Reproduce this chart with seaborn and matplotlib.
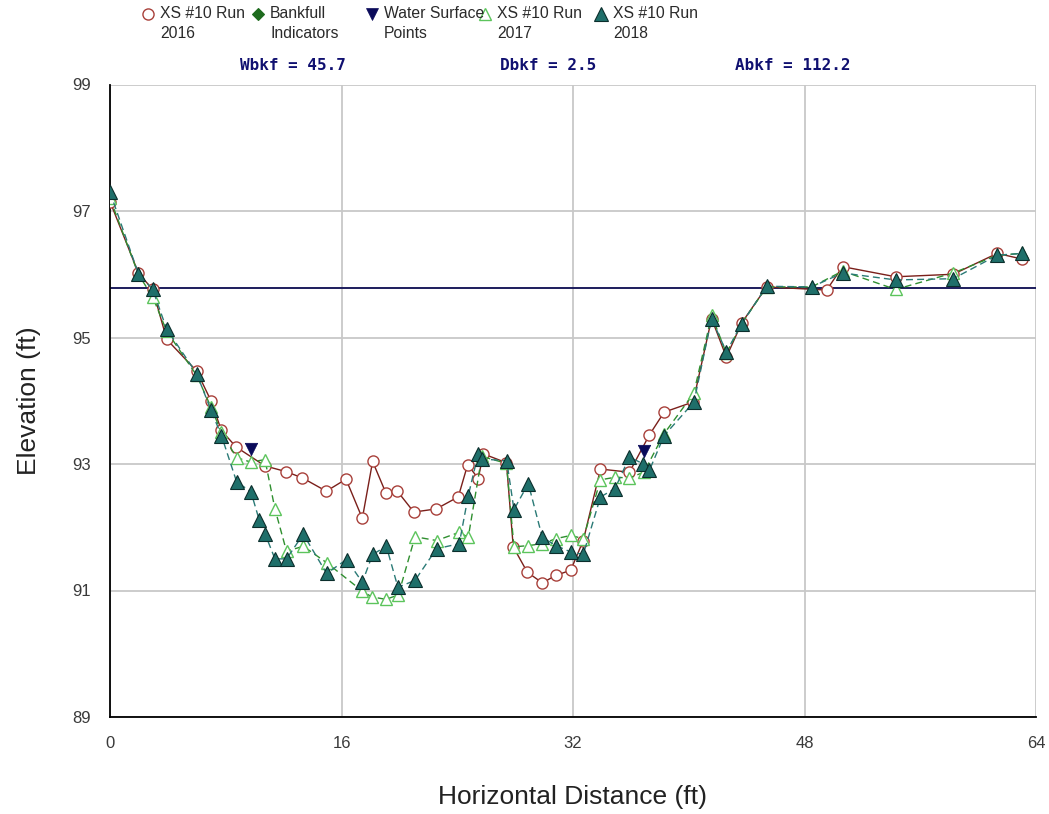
import matplotlib
matplotlib.use("Agg")
import matplotlib.pyplot as plt
from matplotlib.lines import Line2D
import seaborn as sns
import pandas as pd

# Cross-section survey XS #10: station (ft) and elevation (ft) for each run
x_2016 = [0, 1.96, 2.95, 3.92, 5.99, 6.98, 7.7, 8.71, 10.71, 12.16, 13.3, 14.95,
          16.31, 17.44, 18.15, 19.07, 19.86, 21.0, 22.55, 24.07, 24.72, 25.45, 25.8,
          27.4, 27.87, 28.84, 29.88, 30.82, 31.84, 32.71, 33.9, 35.9, 37.28, 38.3,
          40.3, 41.58, 42.6, 43.66, 45.38, 49.53, 50.63, 54.3, 58.28, 61.32, 63.04]
z_2016 = [97.15, 96.02, 95.76, 94.97, 94.47, 94.0, 93.53, 93.27, 92.97, 92.88, 92.78, 92.57,
          92.76, 92.14, 93.04, 92.54, 92.57, 92.24, 92.29, 92.48, 92.99, 92.77, 93.16,
          93.02, 91.69, 91.29, 91.12, 91.24, 91.32, 91.79, 92.92, 92.87, 93.46, 93.82,
          93.98, 95.3, 94.69, 95.23, 95.8, 95.75, 96.12, 95.96, 96.0, 96.33, 96.24]

x_2017 = [0, 1.96, 2.95, 3.92, 5.99, 6.98, 7.7, 8.75, 9.74, 10.71, 11.4, 12.2, 13.36,
          14.97, 17.44, 18.08, 19.07, 19.93, 21.08, 22.57, 24.14, 24.76, 25.7, 27.4,
          27.92, 28.91, 29.88, 30.82, 31.84, 32.71, 33.9, 34.9, 35.9, 36.9, 38.3, 40.35,
          41.58, 42.6, 43.66, 45.38, 48.5, 50.63, 54.3, 58.28, 61.32, 63.04]
z_2017 = [97.2, 96.0, 95.64, 95.1, 94.4, 93.9, 93.5, 93.1, 93.03, 93.07, 92.29, 91.62, 91.7,
          91.44, 90.99, 90.9, 90.86, 90.93, 91.85, 91.79, 91.92, 91.84, 93.12, 93.01,
          91.69, 91.71, 91.74, 91.82, 91.87, 91.82, 92.75, 92.79, 92.78, 92.87, 93.48, 94.12,
          95.35, 94.75, 95.22, 95.8, 95.8, 96.05, 95.76, 96.02, 96.3, 96.33]

x_2018 = [0, 1.96, 2.95, 3.92, 5.99, 6.98, 7.7, 8.75, 9.74, 10.32, 10.71, 11.4, 12.2,
          13.36, 14.97, 16.35, 17.44, 18.15, 19.1, 19.9, 21.08, 22.57, 24.14, 24.76,
          25.45, 25.7, 27.42, 27.92, 28.91, 29.88, 30.82, 31.84, 32.71, 33.9, 34.9, 35.9,
          36.87, 37.28, 38.3, 40.36, 41.58, 42.6, 43.66, 45.38, 48.5, 50.63, 54.3, 58.28,
          61.32, 63.04]
z_2018 = [97.3, 96.01, 95.76, 95.13, 94.43, 93.85, 93.45, 92.72, 92.56, 92.11, 91.9, 91.5,
          91.5, 91.89, 91.27, 91.49, 91.13, 91.57, 91.7, 91.05, 91.16, 91.66, 91.74, 92.5,
          93.16, 93.08, 93.05, 92.28, 92.69, 91.84, 91.71, 91.61, 91.57, 92.48, 92.61, 93.11,
          93.0, 92.9, 93.45, 93.98, 95.3, 94.77, 95.22, 95.81, 95.8, 96.02, 95.91, 95.93,
          96.3, 96.33]

x_ws = [9.74, 36.9]
z_ws = [93.24, 93.2]

bankfull_elev = 95.78
x_ticks = [0, 16, 32, 48, 64]
y_ticks = [89, 91, 93, 95, 97, 99]
stats = ["Wbkf = 45.7", "Dbkf = 2.5", "Abkf = 112.2"]
legend_labels = [("XS #10 Run", "2016"), ("Bankfull", "Indicators"),
                 ("Water Surface", "Points"), ("XS #10 Run", "2017"),
                 ("XS #10 Run", "2018")]

sns.set_style("white")
plt.rcParams["font.family"] = ["Liberation Sans", "DejaVu Sans"]

W, H = 1049, 814
fig = plt.figure(figsize=(W / 100, H / 100), dpi=100)
ax = fig.add_axes([110 / W, 1 - 717 / H, (1036 - 110) / W, (717 - 84.5) / H])

c16_edge, c16_line = "#a8403a", "#7a1f1a"
c17_edge, c17_line = "#5cc45c", "#2f8f2f"
c18_face, c18_edge, c18_line = "#1f6f6a", "#0b2e2c", "#2a7a76"
c_ws = "#0a0a5a"
c_bkf_ind = "#1e6b1e"
c_bkf_line = "#1c1c5c"

ax.axhline(bankfull_elev, color=c_bkf_line, lw=1.4, zorder=2)

df16 = pd.DataFrame({"x": x_2016, "z": z_2016})
df17 = pd.DataFrame({"x": x_2017, "z": z_2017})
df18 = pd.DataFrame({"x": x_2018, "z": z_2018})

sns.lineplot(data=df16, x="x", y="z", ax=ax, sort=False, estimator=None,
             color=c16_line, lw=1.0, marker="o", markersize=8,
             markerfacecolor="white", markeredgecolor=c16_edge, markeredgewidth=1.0,
             zorder=3)
sns.lineplot(data=df17, x="x", y="z", ax=ax, sort=False, estimator=None,
             color=c17_line, lw=1.0, linestyle=(0, (5, 3)), marker="^", markersize=9,
             markerfacecolor="white", markeredgecolor=c17_edge, markeredgewidth=1.0,
             zorder=4)
sns.lineplot(data=df18, x="x", y="z", ax=ax, sort=False, estimator=None,
             color=c18_line, lw=1.0, linestyle=(0, (5, 3)), marker="^", markersize=10,
             markerfacecolor=c18_face, markeredgecolor=c18_edge, markeredgewidth=0.8,
             zorder=5)
sns.scatterplot(x=x_ws, y=z_ws, ax=ax, marker="v", s=80, color=c_ws,
                edgecolor=c_ws, linewidth=0.5, zorder=6)

ax.set_xlim(0, 64)
ax.set_ylim(89, 99)
ax.set_xticks(x_ticks)
ax.set_yticks(y_ticks)
ax.grid(True, color="#c8c8c8", lw=1.3)
ax.set_axisbelow(True)
for side in ["top", "right"]:
    ax.spines[side].set_visible(False)
for side in ["left", "bottom"]:
    ax.spines[side].set_color("black")
    ax.spines[side].set_linewidth(1.3)
ax.tick_params(direction="inout", length=20, width=1.3, color="black",
               labelsize=12, labelcolor="#3a3a3a", pad=4)
ax.set_xlabel("Horizontal Distance (ft)", fontsize=19, labelpad=24, color="#222222")
ax.set_ylabel("Elevation (ft)", fontsize=19, labelpad=22, color="#222222")

# Bankfull summary values above the plot
for txt, px in zip(stats, [240, 500, 735]):
    fig.text(px / W, 1 - 65 / H, txt, family="DejaVu Sans Mono", weight="bold",
             fontsize=11.5, color="#101070", va="center", ha="left")

# Legend row across the top
handles = [
    dict(marker="o", ms=8, mfc="white", mec=c16_edge, mew=1.0),
    dict(marker="D", ms=6, mfc=c_bkf_ind, mec=c_bkf_ind, mew=0.8),
    dict(marker="v", ms=9, mfc=c_ws, mec=c_ws, mew=0.5),
    dict(marker="^", ms=9, mfc="white", mec=c17_edge, mew=1.0),
    dict(marker="^", ms=10, mfc=c18_face, mec=c18_edge, mew=0.8),
]
marker_x = [148, 258, 372, 485, 601]
for (l1, l2), hx, hs in zip(legend_labels, marker_x, handles):
    fig.add_artist(Line2D([hx / W], [1 - 14 / H], transform=fig.transFigure,
                          linestyle="none", **hs))
    fig.text((hx + 12) / W, 1 - 14 / H, l1, fontsize=11.3, color="#2a2a2a",
             va="center", ha="left")
    fig.text((hx + 12) / W, 1 - 33 / H, l2, fontsize=11.3, color="#2a2a2a",
             va="center", ha="left")

fig.savefig("out.png", dpi=100, facecolor="white")
